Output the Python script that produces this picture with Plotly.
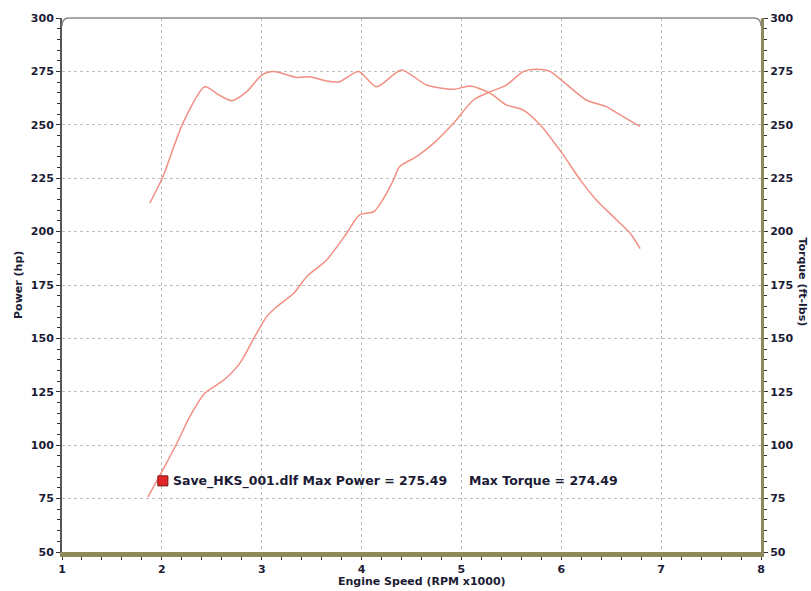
import plotly.graph_objects as go

# ---- data ----
power_rpm = [1.86, 2.01, 2.15, 2.28, 2.43, 2.62, 2.78, 2.93, 3.05, 3.15, 3.32, 3.45,
             3.65, 3.85, 3.98, 4.12, 4.18, 4.32, 4.38, 4.55, 4.72, 4.92, 5.12, 5.29,
             5.45, 5.62, 5.75, 5.89, 6.02, 6.25, 6.45, 6.59, 6.79]
power_hp = [75.7, 88.4, 100.9, 113.4, 124.3, 130.5, 138.3, 150.8, 160.2, 164.8, 171.1, 178.9,
            186.7, 199.2, 207.8, 209.3, 212.5, 224.2, 230.4, 235.1, 241.3, 250.7, 261.6, 265.5,
            268.6, 274.9, 276.0, 274.9, 270.2, 261.6, 258.5, 254.6, 249.1]

torque_rpm = [1.88, 2.01, 2.21, 2.43, 2.57, 2.70, 2.85, 3.00, 3.12, 3.35, 3.48, 3.65,
              3.78, 3.97, 4.15, 4.40, 4.65, 4.92, 5.09, 5.29, 5.45, 5.62, 5.79, 6.02,
              6.19, 6.35, 6.52, 6.69, 6.79]
torque_ftlb = [213.4, 225.7, 250.7, 267.8, 264.0, 261.3, 265.5, 273.3, 274.9, 272.2, 272.5, 270.5,
               270.2, 274.9, 267.8, 275.7, 268.6, 266.6, 268.2, 264.7, 259.3, 256.9, 249.9, 235.9,
               224.2, 214.8, 207.0, 199.2, 192.0]

x_ticks = [1, 2, 3, 4, 5, 6, 7, 8]
y_ticks = [50, 75, 100, 125, 150, 175, 200, 225, 250, 275, 300]

legend_text = "Save_HKS_001.dlf Max Power = 275.49\u00a0\u00a0\u00a0\u00a0\u00a0Max Torque = 274.49"
legend_key_rpm = [2.01]
legend_key_val = [83.3]
legend_text_rpm = 2.095

LINE = "#f28f83"
INK = "#1b1b35"
OLIVE = "#8e8a5c"
FONT = "DejaVu Sans"

fig = go.Figure()
fig.add_trace(go.Scatter(x=power_rpm, y=power_hp, mode="lines", name="Power",
                         line=dict(color=LINE, width=1.5, shape="spline", smoothing=0.7),
                         yaxis="y"))
fig.add_trace(go.Scatter(x=torque_rpm, y=torque_ftlb, mode="lines", name="Torque",
                         line=dict(color=LINE, width=1.5, shape="spline", smoothing=0.7),
                         yaxis="y2"))
fig.add_trace(go.Scatter(x=legend_key_rpm, y=legend_key_val, mode="markers", name="key",
                         marker=dict(symbol="square", size=10, color="#e3262a",
                                     line=dict(color="#7a1010", width=1)),
                         yaxis="y"))

tickfont = dict(family=FONT, size=11, color=INK, weight="bold")

yaxis_common = dict(range=[50, 300], tickvals=y_ticks, tickfont=tickfont,
                    fixedrange=True, zeroline=False)

fig.update_layout(
    width=811, height=591, autosize=False,
    margin=dict(l=62, r=50, t=18, b=39),
    paper_bgcolor="white", plot_bgcolor="white",
    showlegend=False,
    xaxis=dict(range=[1, 8], tickvals=x_ticks, tickfont=tickfont,
               showgrid=True, gridcolor="#bdbdbd", griddash="dot", gridwidth=1,
               showline=True, linecolor=OLIVE, linewidth=5,
               ticks="outside", ticklen=3, tickcolor="#333", tickwidth=1,
               minor=dict(dtick=0.2, ticks="outside", ticklen=3, tickcolor="#333", showgrid=False),
               zeroline=False, fixedrange=True),
    yaxis=dict(**yaxis_common, side="left",
               showgrid=True, gridcolor="#bdbdbd", griddash="dot", gridwidth=1,
               showline=True, linecolor="#555", linewidth=2,
               ticks="outside", ticklen=4, tickcolor="#333", tickwidth=1,
               minor=dict(dtick=5, ticks="outside", ticklen=3, tickcolor="#333", showgrid=False)),
    yaxis2=dict(**yaxis_common, side="right", overlaying="y",
                showgrid=False,
                showline=True, linecolor=OLIVE, linewidth=3,
                ticks="outside", ticklen=4, tickcolor="#333", tickwidth=1,
                minor=dict(dtick=5, ticks="outside", ticklen=3, tickcolor="#333")),
    yaxis3=dict(range=[50, 300], overlaying="y", side="left", showgrid=False,
                showticklabels=False, ticks="inside", ticklen=4, tickcolor="#333",
                tickvals=y_ticks, zeroline=False, showline=False,
                minor=dict(dtick=5, ticks="inside", ticklen=3, tickcolor="#333")),
    yaxis4=dict(range=[50, 300], overlaying="y", side="right", showgrid=False,
                showticklabels=False, ticks="inside", ticklen=4, tickcolor="#333",
                tickvals=y_ticks, zeroline=False, showline=False,
                minor=dict(dtick=5, ticks="inside", ticklen=3, tickcolor="#333")),
)

titlefont = dict(family=FONT, size=11, color=INK, weight="bold")
fig.add_annotation(text="Power (hp)", xref="paper", yref="paper", x=-0.063, y=0.5,
                   textangle=-90, showarrow=False, font=titlefont, xanchor="center", yanchor="middle")
fig.add_annotation(text="Torque (ft-lbs)", xref="paper", yref="paper", x=1.06, y=0.505,
                   textangle=90, showarrow=False, font=titlefont, xanchor="center", yanchor="middle")
fig.add_annotation(text="Engine Speed (RPM x1000)", xref="paper", yref="paper", x=0.515, y=-0.056,
                   showarrow=False, font=titlefont, xanchor="center", yanchor="middle")
fig.add_annotation(text=legend_text, x=legend_text_rpm, y=legend_key_val[0], xref="x", yref="y",
                   showarrow=False, xanchor="left", yanchor="middle",
                   font=dict(family=FONT, size=12.5, color=INK, weight="bold"))

# top border with rounded corners
fig.add_shape(type="path", xref="paper", yref="paper",
              path="M 0,0.985 Q 0,1 0.01,1 L 0.99,1 Q 1,1 1,0.985",
              line=dict(color="#8a8a8a", width=1.5))

fig.write_html("out.html", config={"displayModeBar": False},
               post_script="document.body.style.margin='0';document.body.style.overflow='hidden';")
